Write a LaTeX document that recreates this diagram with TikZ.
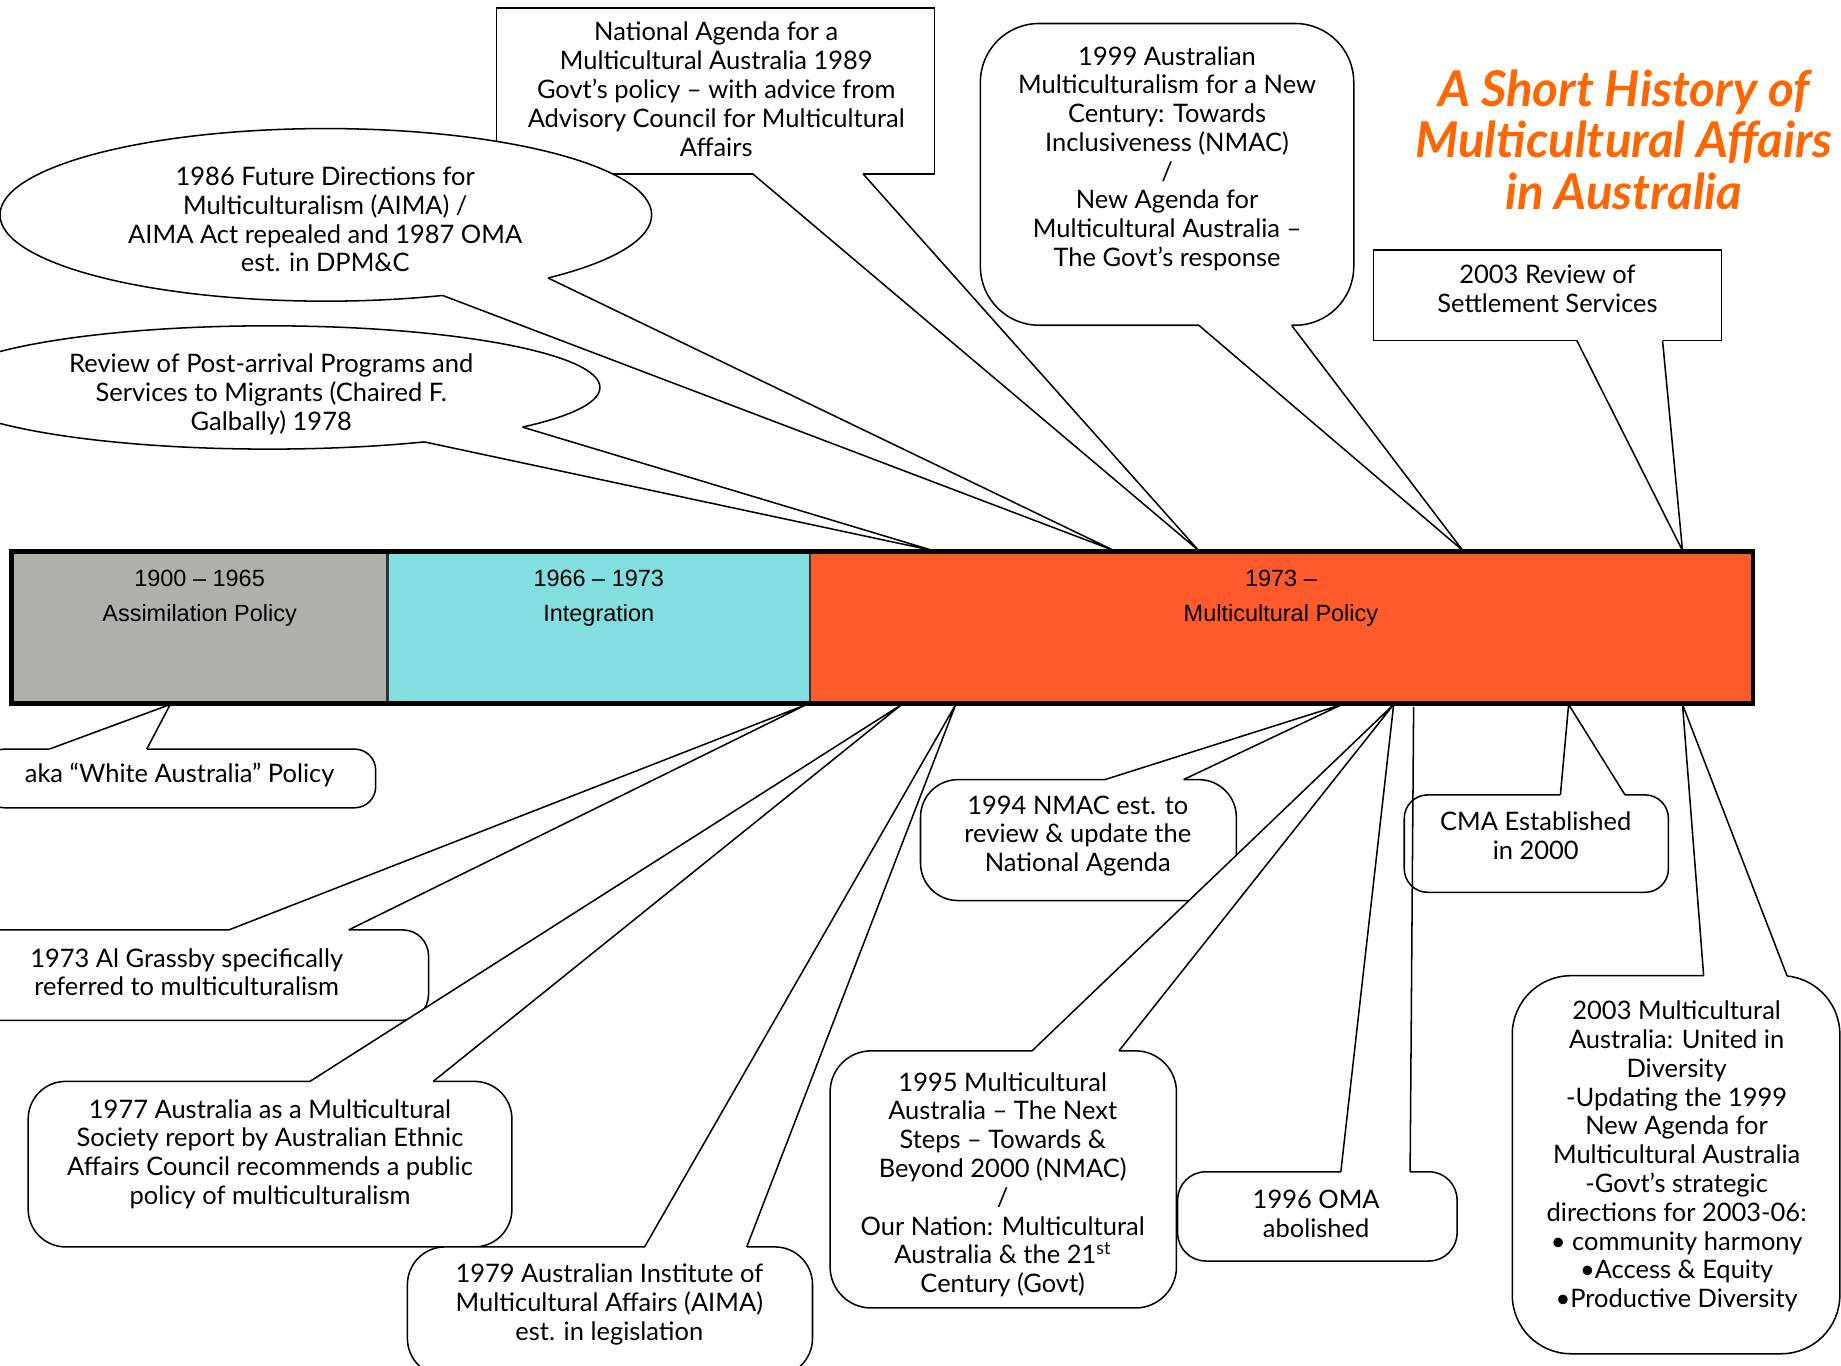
\documentclass[tikz,border=0pt]{standalone}
\usepackage{fontspec}
\setmainfont{Lato}
\newfontfamily\barfont{Liberation Sans}
\usetikzlibrary{shapes.geometric}

\definecolor{assimgray}{HTML}{AEB0AA}
\definecolor{integcyan}{HTML}{83DEDF}
\definecolor{multired}{HTML}{FF5A2B}
\definecolor{titleorange}{HTML}{FF6600}

\tikzset{
  callbox/.style={draw, fill=white, line width=1.3pt, inner sep=0pt, outer sep=0pt},
  roundbox/.style={callbox, rounded corners=#1},
  roundbox/.default=32pt,
  bubble/.style={callbox, ellipse},
  calltext/.style={align=center, inner sep=0pt, font=\fontsize{21.7}{24.5}\selectfont},
  bartext/.style={align=center, inner sep=0pt, font=\barfont\fontsize{20}{29}\selectfont},
  barseg/.style={draw=black!80, line width=2pt, inner sep=0pt, outer sep=0pt, anchor=north west, minimum height=129pt},
  wedgeline/.style={line width=1.3pt},
  basegap/.style={white, line width=3pt},
}

\begin{document}
\begin{tikzpicture}[x=1pt, y=-1pt]
        \useasboundingbox (0,0) rectangle (1568,1163);

        % Caixas de cima
        \node[callbox, minimum width=373pt, minimum height=141pt] (na) at (609.5,77.5) {};
        \node[calltext] (naText) at (610,76) {National Agenda for a\\Multicultural Australia 1989\\Govt’s policy – with advice from\\Advisory Council for Multicultural\\Affairs};
        \node[roundbox=50pt, minimum width=318pt, minimum height=257pt] (nmac) at (994,148.5) {};
        \node[calltext] (nmacText) at (994,135) {1999 Australian\\Multiculturalism for a New\\Century: Towards\\Inclusiveness (NMAC)\\/\\New Agenda for\\Multicultural Australia –\\The Govt’s response};
        \node[callbox, minimum width=296pt, minimum height=77pt] (review) at (1318,251.5) {};
        \node[calltext] (reviewText) at (1318,246) {2003 Review of\\Settlement Services};
        \node[bubble, minimum width=555pt, minimum height=147pt] (future) at (277.5,183) {};
        \node[calltext] (futureText) at (277,187) {1986 Future Directions for\\Multiculturalism (AIMA) /\\AIMA Act repealed and 1987 OMA\\est. in DPM\&C};
        \node[bubble, minimum width=564pt, minimum height=105pt] (galbally) at (229,330) {};
        \node[calltext] (galballyText) at (231,336) {Review of Post-arrival Programs and\\Services to Migrants (Chaired F.\\Galbally) 1978};

        % Caixas de baixo
        \node[roundbox=18pt, minimum width=334pt, minimum height=50pt] (aka) at (153,663) {};
        \node[calltext] (akaText) at (153,660) {aka “White Australia” Policy};
        \node[roundbox=22pt, minimum width=412pt, minimum height=77pt] (grassby) at (159,830.5) {};
        \node[calltext] (grassbyText) at (159,828) {1973 Al Grassby specifically\\referred to multiculturalism};
        \node[roundbox, minimum width=412pt, minimum height=141pt] (aeac) at (230,991.5) {};
        \node[calltext] (aeacText) at (230,983) {1977 Australia as a Multicultural\\Society report by Australian Ethnic\\Affairs Council recommends a public\\policy of multiculturalism};
        \node[roundbox, minimum width=345pt, minimum height=110pt] (aima) at (519.5,1117) {};
        \node[calltext] (aimaText) at (519,1111) {1979 Australian Institute of\\Multicultural Affairs (AIMA)\\est. in legislation};
        \node[roundbox, minimum width=269pt, minimum height=103pt] (nmacEst) at (918.5,715.5) {};
        \node[calltext] (nmacEstText) at (918,712) {1994 NMAC est. to\\review \& update the\\National Agenda};
        \node[roundbox=35pt, minimum width=295pt, minimum height=219pt] (steps) at (854.5,1004.5) {};
        \node[calltext] (stepsText) at (854,1009) {1995 Multicultural\\Australia – The Next\\Steps – Towards \&\\Beyond 2000 (NMAC)\\/\\Our Nation: Multicultural\\Australia \& the 21\textsuperscript{st}\\Century (Govt)};
        \node[roundbox=24pt, minimum width=238pt, minimum height=76pt] (omaEnd) at (1122,1036) {};
        \node[calltext] (omaEndText) at (1121,1034) {1996 OMA\\abolished};
        \node[roundbox=50pt, minimum width=279pt, minimum height=322pt] (unity) at (1427.5,992) {};
        \node[calltext] (unityText) at (1428,985) {2003 Multicultural\\Australia: United in\\Diversity\\-Updating the 1999\\New Agenda for\\Multicultural Australia\\-Govt’s strategic\\directions for 2003-06:\\• community harmony\\•Access \& Equity\\•Productive Diversity};

        % Pontas na barra
        \coordinate (tGal) at (795,469);
        \coordinate (tFut) at (949,469);
        \coordinate (tNa) at (1021,469);
        \coordinate (tNmac) at (1246,469);
        \coordinate (tRev) at (1433,469);
        \coordinate (tAka) at (145,600);
        \coordinate (tGras) at (687,600);
        \coordinate (tAeac) at (768,600);
        \coordinate (tAima) at (814,600);
        \coordinate (tEst) at (1143,600);
        \coordinate (tSteps) at (1187,600);
        \coordinate (tOma) at (1204,602);
        \coordinate (tCma) at (1336,600);
        \coordinate (tUnity) at (1433,600);

        % Bases das setas
        \coordinate (naA) at (641,0 |- na.south);
        \coordinate (naB) at (735,0 |- na.south);
        \coordinate (nmacA) at (1021,0 |- nmac.south);
        \coordinate (nmacB) at (1100,0 |- nmac.south);
        \coordinate (revA) at (1343,0 |- review.south);
        \coordinate (revB) at (1416,0 |- review.south);
        \coordinate (futA) at ([shift={(future.center)}]69:277.5 and 73.5);
        \coordinate (futB) at ([shift={(future.center)}]47:277.5 and 73.5);
        \coordinate (galA) at ([shift={(galbally.center)}]62:282 and 52.5);
        \coordinate (galB) at ([shift={(galbally.center)}]40:282 and 52.5);
        \coordinate (akaA) at (42,0 |- aka.north);
        \coordinate (akaB) at (125,0 |- aka.north);
        \coordinate (grasA) at (195,0 |- grassby.north);
        \coordinate (grasB) at (297,0 |- grassby.north);
        \coordinate (aeacA) at (264,0 |- aeac.north);
        \coordinate (aeacB) at (369,0 |- aeac.north);
        \coordinate (aimaA) at (549,0 |- aima.north);
        \coordinate (aimaB) at (636,0 |- aima.north);
        \coordinate (estA) at (941,0 |- nmacEst.north);
        \coordinate (estB) at (1008,0 |- nmacEst.north);
        \coordinate (stepsA) at (879,0 |- steps.north);
        \coordinate (stepsB) at (953,0 |- steps.north);
        \coordinate (omaA) at (1142,0 |- omaEnd.north);
        \coordinate (omaB) at (1201,0 |- omaEnd.north);
        \coordinate (unityA) at (1451,0 |- unity.north);
        \coordinate (unityB) at (1522,0 |- unity.north);

        % Setas das caixas
        \foreach \a/\t/\b in {naA/tNa/naB, nmacA/tNmac/nmacB, revA/tRev/revB, futA/tFut/futB,
            galA/tGal/galB, akaA/tAka/akaB, grasA/tGras/grasB, aeacA/tAeac/aeacB,
            aimaA/tAima/aimaB, estA/tEst/estB, stepsA/tSteps/stepsB, unityA/tUnity/unityB} {
          \fill[white] (\a) -- (\t) -- (\b) -- cycle;
          \draw[basegap] (\a) -- (\b);
          \draw[wedgeline] (\a) -- (\t) -- (\b);
        }
        \fill[white] (omaA) -- (tSteps) -- (tOma) -- (omaB) -- cycle;
        \draw[basegap] (omaA) -- (omaB);
        \draw[wedgeline] (omaA) -- (tSteps) (omaB) -- (tOma);

        % CMA por cima
        \node[roundbox=20pt, fill=none, minimum width=225pt, minimum height=83pt] (cma) at (1308.5,718.5) {};
        \node[calltext] (cmaText) at (1308,712) {CMA Established\\in 2000};
        \coordinate (cmaA) at (1329,0 |- cma.north);
        \coordinate (cmaB) at (1384,0 |- cma.north);
        \fill[white] (cmaA) -- (tCma) -- (cmaB) -- cycle;
        \draw[basegap] (cmaA) -- (cmaB);
        \draw[wedgeline] (cmaA) -- (tCma) -- (cmaB);

        % Barra do tempo
        \node[barseg, fill=assimgray, minimum width=320pt] (assim) at (10,470) {};
        \node[barseg, fill=integcyan, minimum width=360pt] (integ) at (330,470) {};
        \node[barseg, fill=multired, minimum width=803pt] (multi) at (690,470) {};
        \draw[line width=4pt] (assim.north west) rectangle (multi.south east);
        \node[bartext] (assimText) at (170,509.5) {1900 – 1965\\Assimilation Policy};
        \node[bartext] (integText) at (510,509.5) {1966 – 1973\\Integration};
        \node[bartext] (multiText) at (1091,509.5) {1973 –\\Multicultural Policy};

        % Titulo
        \node[align=center, inner sep=0pt, text=titleorange, font=\bfseries\itshape\fontsize{42}{44}\selectfont] (title) at (1383,119) {A Short History of\\Multicultural Affairs\\in Australia};
      \end{tikzpicture}
\end{document}
